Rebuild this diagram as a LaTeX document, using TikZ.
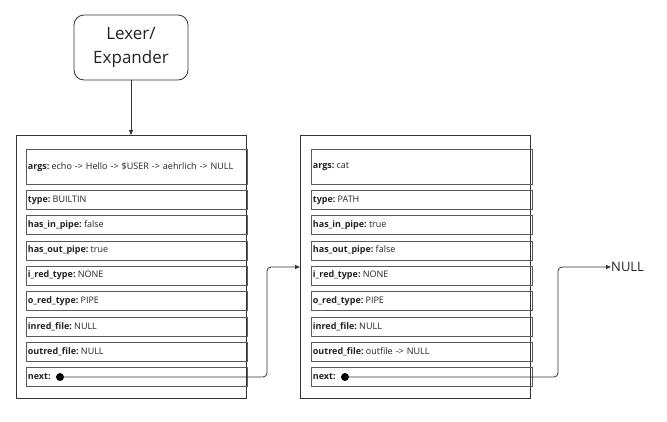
\documentclass[tikz,border=0pt]{standalone}
\usepackage{fontspec}
\setmainfont{Open Sans}
\usetikzlibrary{arrows.meta}
\definecolor{ln}{HTML}{333333}
\definecolor{fl}{HTML}{5a5a5a}
\definecolor{tx}{HTML}{222222}
\newcommand{\flbl}[1]{\textbf{#1}\hspace{2.2pt}}
\tikzset{
  outerbox/.style={draw=ln, line width=0.8pt, anchor=north west, minimum width=230pt, minimum height=263pt, inner sep=0pt},
  field/.style={draw=fl, line width=0.8pt, anchor=north west, minimum width=221pt, minimum height=19pt, text width=218pt, inner xsep=1pt, inner ysep=0pt, align=left, font=\fontsize{9}{10}\selectfont, text=tx},
  argfield/.style={field, minimum height=35pt},
  dotnode/.style={circle, fill=black, inner sep=0pt, minimum size=8pt},
  conn/.style={draw=ln, line width=0.8pt, rounded corners=4pt, -{Triangle[length=5pt,width=4pt]}},
  lexer/.style={draw=ln, line width=0.8pt, rounded corners=10pt, minimum width=114pt, minimum height=65pt, align=center, font=\fontsize{17}{24}\selectfont, text=tx}
}
\begin{document}
\begin{tikzpicture}[x=1pt,y=-1pt]
\useasboundingbox (0,0) rectangle (667,421);
\node[lexer] (lex) at (131,47.5) {Lexer/\\Expander};
\node[outerbox] (b1) at (16,135) {};
\node[outerbox] (b2) at (300,135) {};
\draw[ln, line width=0.8pt, -{Triangle[length=5pt,width=4pt]}] (lex.south) -- (b1.north -| lex.south);
% box 1 fields
\node[argfield] (a1) at (26,149) {\flbl{args:}echo -> Hello -> \$USER -> aehrlich -> NULL};
\node[field] (t1) at (26,190) {\flbl{type:}BUILTIN};
\node[field] (hi1) at (26,215) {\flbl{has\_in\_pipe:}false};
\node[field] (ho1) at (26,240.5) {\flbl{has\_out\_pipe:}true};
\node[field] (ir1) at (26,265.5) {\flbl{i\_red\_type:}NONE};
\node[field] (or1) at (26,291) {\flbl{o\_red\_type:}PIPE};
\node[field] (if1) at (26,316.5) {\flbl{inred\_file:}NULL};
\node[field] (of1) at (26,341.5) {\flbl{outred\_file:}NULL};
\node[field] (n1) at (26,367) {\flbl{next:}};
% box 2 fields
\node[argfield] (a2) at (311,149) {\flbl{args:}cat};
\node[field] (t2) at (311,190) {\flbl{type:}PATH};
\node[field] (hi2) at (311,215) {\flbl{has\_in\_pipe:}true};
\node[field] (ho2) at (311,240.5) {\flbl{has\_out\_pipe:}false};
\node[field] (ir2) at (311,265.5) {\flbl{i\_red\_type:}NONE};
\node[field] (or2) at (311,291) {\flbl{o\_red\_type:}PIPE};
\node[field] (if2) at (311,316.5) {\flbl{inred\_file:}NULL};
\node[field] (of2) at (311,341.5) {\flbl{outred\_file:}outfile -> NULL};
\node[field] (n2) at (311,367) {\flbl{next:}};
% dots
\node[dotnode] (d1) at (60,377) {};
\node[dotnode] (d2) at (345,377) {};
\node[anchor=west, inner sep=0pt, font=\fontsize{13}{15}\selectfont, text=tx] (null) at (611,267) {NULL};
\coordinate (c1) at (267,267);
\coordinate (c2) at (558,267);
\draw[conn] (d1.center) -| (c1) -- (b2.west |- c1);
\draw[conn] (d2.center) -| (c2) -- (null.west);
\end{tikzpicture}
\end{document}
